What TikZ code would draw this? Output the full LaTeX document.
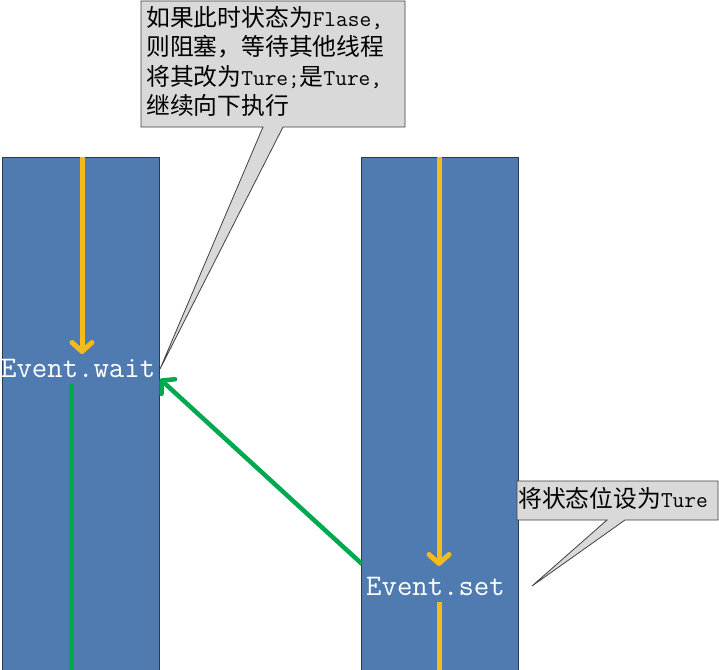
\documentclass[tikz,border=0pt]{standalone}
\usepackage{fontspec}
\usetikzlibrary{arrows.meta}
\newfontfamily\cjkfont{Noto Sans CJK SC}
\newfontfamily\latfont{Latin Modern Mono}
\newcommand\mylat[1]{{\latfont\fontsize{22.7}{27}\selectfont #1}}
\definecolor{colblue}{HTML}{4F7BB0}
\definecolor{coledge}{HTML}{2A3A55}
\definecolor{yel}{HTML}{F5BA1E}
\definecolor{grn}{HTML}{00A850}
\definecolor{callfill}{HTML}{D9D9D9}
\definecolor{calledge}{HTML}{404040}
\begin{document}
\begin{tikzpicture}[x=1pt,y=-1pt,
  column/.style={draw=coledge, line width=0.8pt, fill=colblue, minimum width=157pt, minimum height=530pt, inner sep=0pt, anchor=north west},
  yarrow/.style={draw=yel, line width=5pt, -{Straight Barb[length=9pt,width=20pt,line cap=round,line join=round]}},
  yline/.style={draw=yel, line width=5pt},
  garrow/.style={draw=grn, line width=4.5pt, -{Straight Barb[length=9pt,width=20pt,line cap=round,line join=round]}},
  gline/.style={draw=grn, line width=5pt},
  evlabel/.style={text=white, font=\latfont\fontsize{29.9}{34}\selectfont, inner sep=0pt, anchor=base west},
  callout/.style={fill=callfill, draw=calledge, line width=0.8pt, line join=miter},
  calltext/.style={text=black, font=\cjkfont\fontsize{23.8}{29}\selectfont, inner sep=0pt, anchor=base west}
]
\useasboundingbox (0,0) rectangle (719,669);
\fill[white] (0,0) rectangle (719,669);

% columns
\node[column] (colL) at (2,157) {};
\node[column] (colR) at (361,157) {};

% left column
\coordinate (wtop) at (82,157);
\coordinate (wtip) at (82,354);
\draw[yarrow] (wtop) -- (wtip);
\node[evlabel] (wait) at (1,377) {Event.wait};
\coordinate (gtop) at (71,384);
\coordinate (gbot) at (71,675);
\draw[gline] (gtop) -- (gbot);

% right column
\coordinate (stop) at (439,157);
\coordinate (stip) at (439,566);
\draw[yarrow] (stop) -- (stip);
\node[evlabel] (set) at (366,595) {Event.set};
\coordinate (sbtop) at (439,602);
\coordinate (sbbot) at (439,675);
\draw[yline] (sbtop) -- (sbbot);

% green signal arrow
\coordinate (gstart) at (362,564);
\coordinate (gtip) at (160,379);
\draw[garrow] (gstart) -- (gtip);

% top callout
\coordinate (c1tip) at (160,369);
\draw[callout] (141,1) -- (405,1) -- (405,127) -- (283,127) -- (c1tip) -- (263,127) -- (141,127) -- cycle;
\node[calltext] (t1) at (146,27) {如果此时状态为\mylat{Flase,}};
\node[calltext] (t2) at (146,56) {则阻塞，等待其他线程};
\node[calltext] (t3) at (146,85) {将其改为\mylat{Ture;}是\mylat{Ture,}};
\node[calltext] (t4) at (146,114) {继续向下执行};

% right callout
\coordinate (c2tip) at (532,586);
\draw[callout] (517,481) -- (718,481) -- (718,520) -- (625,520) -- (c2tip) -- (607,520) -- (517,520) -- cycle;
\node[calltext] (t5) at (518,507) {将状态位设为\mylat{Ture}};
\end{tikzpicture}
\end{document}
